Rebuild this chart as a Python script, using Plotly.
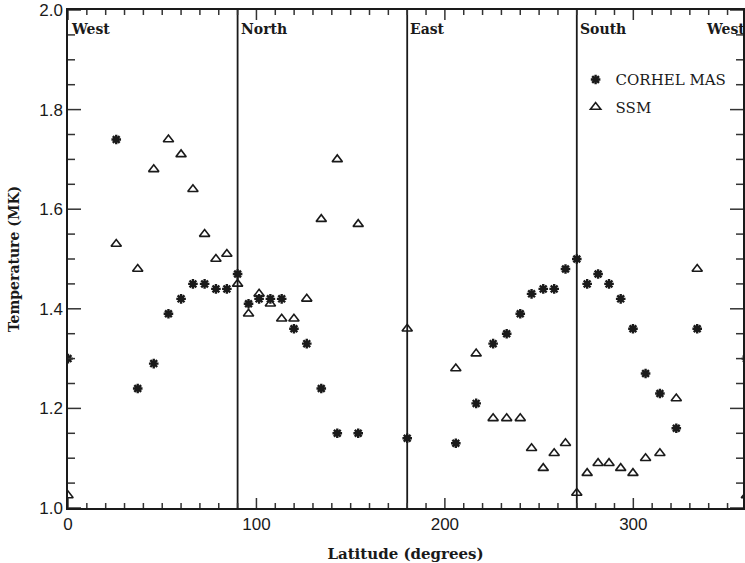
import plotly.graph_objects as go

# Longitude (deg) of each sample
lon = [0, 25.6, 37.0, 45.5, 53.3, 60.0, 66.3, 72.5, 78.5, 84.3, 90, 95.8, 101.4,
       107.4, 113.4, 119.9, 126.7, 134.4, 142.9, 154.0, 180, 205.8, 216.6, 225.6,
       232.8, 240.0, 246.0, 252.2, 258.0, 264.0, 270, 275.5, 281.3, 287.1, 293.3,
       299.8, 306.5, 314.1, 322.8, 333.9, 360]

corhel_mas = [1.30, 1.74, 1.24, 1.29, 1.39, 1.42, 1.45, 1.45, 1.44, 1.44, 1.47,
              1.41, 1.42, 1.42, 1.42, 1.36, 1.33, 1.24, 1.15, 1.15, 1.14, 1.13,
              1.21, 1.33, 1.35, 1.39, 1.43, 1.44, 1.44, 1.48, 1.50, 1.45, 1.47,
              1.45, 1.42, 1.36, 1.27, 1.23, 1.16, 1.36, 1.30]

ssm = [1.025, 1.53, 1.48, 1.68, 1.74, 1.71, 1.64, 1.55, 1.50, 1.51, 1.45, 1.39,
       1.43, 1.41, 1.38, 1.38, 1.42, 1.58, 1.70, 1.57, 1.36, 1.28, 1.31, 1.18,
       1.18, 1.18, 1.12, 1.08, 1.11, 1.13, 1.03, 1.07, 1.09, 1.09, 1.08, 1.07,
       1.10, 1.11, 1.22, 1.48, 1.025]

sector_bounds = [90, 180, 270]
sector_names = ["West", "North", "East", "South", "West"]
sector_name_lon = [0, 90, 180, 270, 337]

# tick positions
x_major_ticks = [0, 100, 200, 300]
x_minor_ticks = [v for v in range(0, 360, 10) if v % 100 != 0]
y_major_ticks = [1.0, 1.2, 1.4, 1.6, 1.8, 2.0]
y_minor_ticks = [round(1.0 + 0.05 * i, 2) for i in range(21) if i % 4 != 0]

INK = "#1a1a1a"
TICK = "#333333"
SERIF = "DejaVu Serif"
SANS = "Liberation Sans"

fig = go.Figure()
fig.add_trace(go.Scatter(
    x=lon, y=corhel_mas, mode="markers", name="CORHEL MAS", legendgroup="a",
    marker=dict(symbol="asterisk-open", size=8, color=INK,
                line=dict(color=INK, width=2.4)),
))
fig.add_trace(go.Scatter(
    x=lon, y=ssm, mode="markers", name="SSM", legendgroup="b",
    marker=dict(symbol="triangle-up-open", size=9, color=INK,
                line=dict(color=INK, width=1.6)),
))

for b in sector_bounds:
    fig.add_vline(x=b, line=dict(color=INK, width=1.8))

for name, l in zip(sector_names, sector_name_lon):
    fig.add_annotation(x=l, y=1.962, text="<b>%s</b>" % name, showarrow=False,
                       xanchor="left", yanchor="middle", xshift=1,
                       font=dict(family=SERIF, size=14, color=INK))

# inward ticks on all four sides, drawn as pixel-sized shapes anchored to the axes
tick_line = dict(color=TICK, width=1.5)
for ticks, length in ((x_major_ticks, 10), (x_minor_ticks, 5)):
    for v in ticks:
        fig.add_shape(type="line", xref="x", yref="paper", ysizemode="pixel",
                      yanchor=0, x0=v, x1=v, y0=0, y1=length,
                      line=tick_line, layer="above")
        fig.add_shape(type="line", xref="x", yref="paper", ysizemode="pixel",
                      yanchor=1, x0=v, x1=v, y0=0, y1=-length,
                      line=tick_line, layer="above")
for ticks, length in ((y_major_ticks, 13), (y_minor_ticks, 7)):
    for v in ticks:
        fig.add_shape(type="line", xref="paper", yref="y", xsizemode="pixel",
                      xanchor=0, x0=0, x1=length, y0=v, y1=v,
                      line=tick_line, layer="above")
        fig.add_shape(type="line", xref="paper", yref="y", xsizemode="pixel",
                      xanchor=1, x0=0, x1=-length, y0=v, y1=v,
                      line=tick_line, layer="above")

fig.update_layout(
    xaxis=dict(range=[0, 358.2], tickvals=x_major_ticks,
               showgrid=False, zeroline=False, showline=True,
               linecolor=INK, linewidth=1.5, mirror=True, ticks="",
               tickfont=dict(family=SANS, size=17, color=INK),
               title=dict(text="<b>Latitude (degrees)</b>", standoff=18,
                          font=dict(family=SERIF, size=15, color=INK))),
    yaxis=dict(range=[1.0, 2.0], tickvals=y_major_ticks,
               showgrid=False, zeroline=False, showline=True,
               linecolor=INK, linewidth=1.5, mirror=True, ticks="",
               tickfont=dict(family=SANS, size=17, color=INK),
               tickformat=".1f",
               title=dict(text="<b>Temperature (MK)</b>", standoff=16,
                          font=dict(family=SERIF, size=14, color=INK))),
    width=745, height=563,
    margin=dict(l=68, r=0, t=10, b=52),
    paper_bgcolor="white", plot_bgcolor="white",
    showlegend=True,
    legend=dict(x=0.752, y=0.893, xanchor="left", yanchor="top",
                bgcolor="rgba(0,0,0,0)", borderwidth=0,
                font=dict(family=SERIF, size=15, color=INK),
                itemwidth=30, traceorder="grouped", tracegroupgap=5),
)

fig.write_html("out.html")
